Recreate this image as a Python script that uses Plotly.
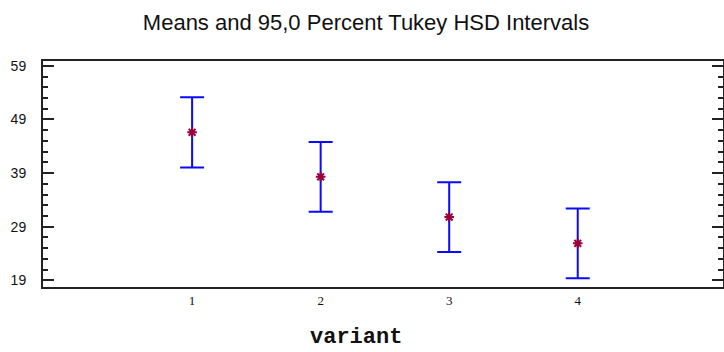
import plotly.graph_objects as go

categories = [1, 2, 3, 4]
means = [46.6, 38.3, 30.8, 25.9]
half_widths = [6.55, 6.5, 6.5, 6.5]
y_ticks = [19, 29, 39, 49, 59]
x_tick_labels = ["1", "2", "3", "4"]

fig = go.Figure()
fig.add_trace(go.Scatter(
    x=categories, y=means, mode="markers",
    marker=dict(symbol="asterisk-open", size=8, color="#9a0038",
                line=dict(width=2, color="#9a0038")),
    error_y=dict(type="data", array=half_widths, symmetric=True,
                 color="#0a0aff", thickness=2, width=12),
    showlegend=False,
))

fig.update_layout(
    width=724, height=352,
    margin=dict(l=43, r=1, t=61, b=65),
    paper_bgcolor="white", plot_bgcolor="white",
    title=dict(text="Means and 95,0 Percent Tukey HSD Intervals",
               x=366 / 724, xref="container", xanchor="center",
               y=1 - 22 / 352, yref="container", yanchor="middle",
               font=dict(family="Liberation Sans, Arial", size=22, color="#111")),
    xaxis=dict(range=[-0.16, 5.13], tickvals=categories, ticktext=x_tick_labels,
               showgrid=False, zeroline=False, showline=True, linewidth=2,
               linecolor="#222", mirror=True, ticks="",
               tickfont=dict(family="Liberation Serif", size=13, color="#111")),
    yaxis=dict(range=[17.75, 59.9], tickvals=y_ticks, automargin=False,
               showgrid=False, zeroline=False, showline=True, linewidth=2,
               linecolor="#222", mirror="ticks", ticks="inside", ticklen=11,
               tickwidth=2, tickcolor="#222", ticklabelstandoff=12,
               minor=dict(tick0=19, dtick=2, ticks="inside", ticklen=5,
                          tickwidth=2, tickcolor="#222"),
               tickfont=dict(family="Liberation Sans, Arial", size=14, color="#111")),
    annotations=[dict(text="<b>variant</b>", x=(356 - 43) / 680, xref="paper",
                      xanchor="center", y=-(351 - 287) / 226, yref="paper",
                      yanchor="bottom", showarrow=False, borderpad=0,
                      font=dict(family="Liberation Mono, Courier New", size=22,
                                color="#111"))],
)

fig.write_html("out.html", config={"displayModeBar": False},
               post_script="document.body.style.margin='0';document.body.style.overflow='hidden';")
